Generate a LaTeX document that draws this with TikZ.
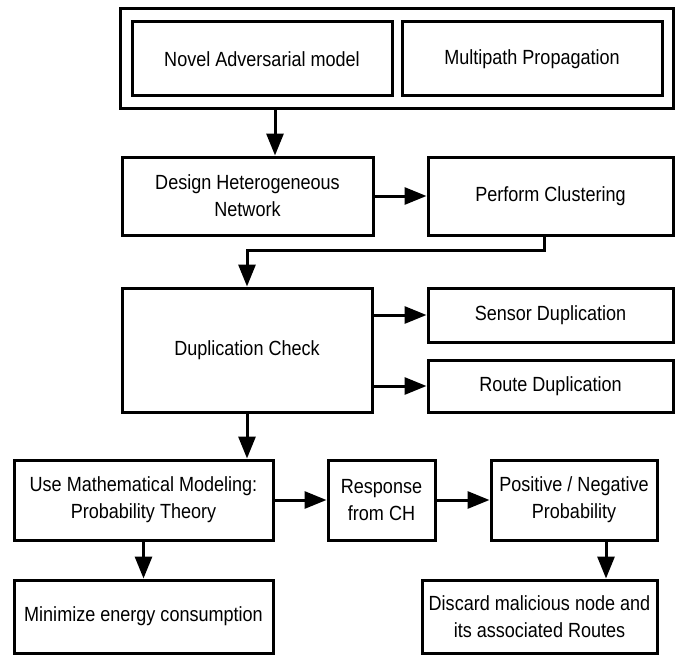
\documentclass[tikz,border=0pt]{standalone}
\usepackage{fontspec}
\setmainfont[FakeStretch=0.88]{Liberation Sans}
\usetikzlibrary{arrows.meta}
\begin{document}
\begin{tikzpicture}[x=1pt,y=-1pt,
  box/.style={draw, line width=3pt, align=center, inner sep=0pt,
    font=\fontsize{20.5}{27}\selectfont},
  arr/.style={line width=3pt, -{Triangle[length=22pt,width=17pt]}}]
\useasboundingbox (0,0) rectangle (676,658);
% top group
\node[box, minimum width=553pt, minimum height=99pt] (outer) at (396.5,58.5) {};
\node[box, minimum width=260pt, minimum height=74pt] (novel) at (262,59) {Novel Adversarial model};
\node[box, minimum width=260pt, minimum height=74pt] (multi) at (532,59) {Multipath Propagation};
% second row
\node[box, minimum width=251pt, minimum height=78pt] (design) at (247.5,196) {Design Heterogeneous\\Network};
\node[box, minimum width=245pt, minimum height=78pt] (perform) at (550.5,196) {Perform Clustering};
% third row
\node[box, minimum width=250pt, minimum height=124pt] (dup) at (247,350) {Duplication Check};
\node[box, minimum width=245pt, minimum height=54pt] (sensor) at (550.5,315) {Sensor Duplication};
\node[box, minimum width=245pt, minimum height=52pt] (route) at (550.5,386) {Route Duplication};
% fourth row
\node[box, minimum width=259pt, minimum height=80pt] (use) at (143.5,500) {Use Mathematical Modeling:\\Probability Theory};
\node[box, minimum width=107pt, minimum height=80pt] (resp) at (381.5,500) {Response\\from CH};
\node[box, minimum width=166pt, minimum height=80pt] (pos) at (574,500) {Positive / Negative\\Probability};
% bottom row
\node[box, minimum width=259pt, minimum height=73pt] (mini) at (143.5,616.5) {Minimize energy consumption};
\node[box, minimum width=235pt, minimum height=73pt] (disc) at (539.5,616.5) {Discard malicious node and\\its associated Routes};
% connectors
\coordinate (a1) at ([xshift=27.5pt]design.north);
\draw[arr] (a1 |- outer.south) -- (a1);
\draw[arr] (design.east) -- (perform.west);
\coordinate (p1) at ([xshift=-6pt]perform.south);
\draw[arr] (p1) -- ++(0,14) -| (dup.north);
\draw[arr] (dup.east |- sensor.west) -- (sensor.west);
\draw[arr] (dup.east |- route.west) -- (route.west);
\draw[arr] (dup.south) -- (dup.south |- use.north);
\draw[arr] (use.east) -- (resp.west);
\draw[arr] (resp.east) -- (pos.west);
\draw[arr] (use.south) -- (mini.north);
\coordinate (q1) at ([xshift=32pt]pos.south);
\draw[arr] (q1) -- (q1 |- disc.north);
\end{tikzpicture}
\end{document}
